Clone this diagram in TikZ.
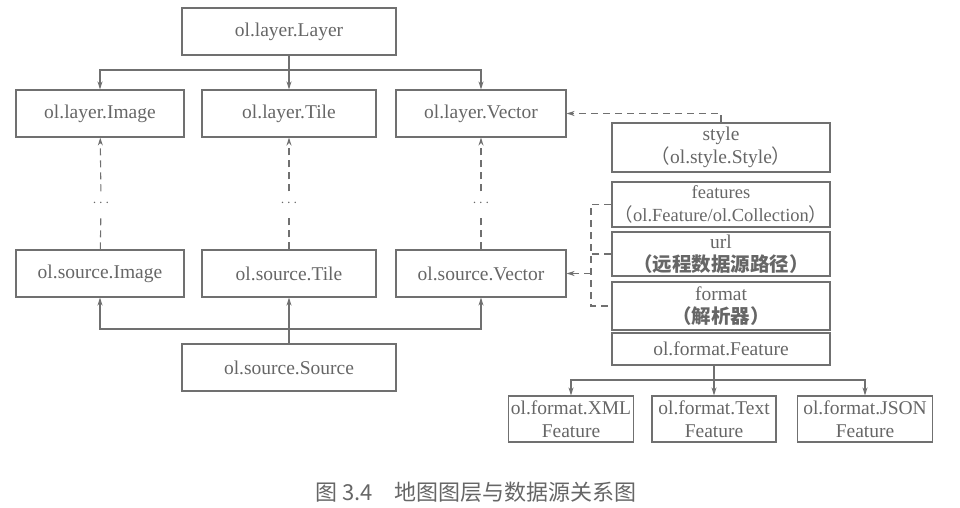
\documentclass[tikz,border=0pt]{standalone}
\usepackage{fontspec}
\setmainfont{Liberation Serif}
\newfontfamily\cjk{Noto Sans CJK SC}
\usepackage[dvipsnames]{xcolor}
\definecolor{linegray}{HTML}{707070}
\definecolor{textgray}{HTML}{666666}
\usetikzlibrary{arrows.meta}

\begin{document}
\begin{tikzpicture}[x=1pt,y=-1pt,->,>={Stealth[length=8pt,width=5pt]},line width=1.1pt,draw=linegray,
    main node/.style={draw=linegray,text=textgray,font=\fontsize{19.5}{23}\selectfont,align=center,inner sep=0pt,minimum height=47pt},
    dot node/.style={text=textgray,font=\fontsize{15}{15}\selectfont,inner sep=0pt,minimum height=22pt},
    dash line/.style={dash pattern=on 7pt off 5pt}]
    \useasboundingbox (0,0) rectangle (960,508);

    \node[main node,minimum width=214pt] (layer) at (289,31.5) {ol.layer.Layer};
    \node[main node,minimum width=168pt] (limg) at (100,113.5) {ol.layer.Image};
    \node[main node,minimum width=174pt] (ltile) at (289,113.5) {ol.layer.Tile};
    \node[main node,minimum width=170pt] (lvec) at (481,113.5) {ol.layer.Vector};

    \node[dot node] (d1) at (101,203) {$\cdots$};
    \node[dot node] (d2) at (289,203) {$\cdots$};
    \node[dot node] (d3) at (481,203) {$\cdots$};

    \node[main node,minimum width=168pt] (simg) at (100,273.5) {ol.source.Image};
    \node[main node,minimum width=174pt] (stile) at (289,273.5) {ol.source.Tile};
    \node[main node,minimum width=170pt] (svec) at (481,273.5) {ol.source.Vector};
    \node[main node,minimum width=214pt] (src) at (289,367.5) {ol.source.Source};

    \node[main node,minimum width=218pt,minimum height=49pt] (style) at (721,147.5) {style\\{\cjk（}ol.style.Style{\cjk）}};
    \node[main node,minimum width=218pt,minimum height=45pt,font=\fontsize{18.5}{23}\selectfont] (feat) at (721,204.5) {features\\{\cjk（}ol.Feature/ol.Collection{\cjk）}};
    \node[main node,minimum width=218pt,minimum height=44pt] (url) at (721,254) {url\\{\cjk\bfseries（远程数据源路径）}};
    \node[main node,minimum width=218pt,minimum height=48pt] (fmt) at (721,306) {format\\{\cjk\bfseries（解析器）}};
    \node[main node,minimum width=218pt,minimum height=32pt] (fmtf) at (721,349) {ol.format.Feature};
    \node[main node,minimum width=125pt,minimum height=46pt] (xml) at (571,419) {ol.format.XML\\Feature};
    \node[main node,minimum width=124pt,minimum height=46pt] (txt) at (714,419) {ol.format.Text\\Feature};
    \node[main node,minimum width=135pt,minimum height=46pt] (json) at (865,419) {ol.format.JSON\\Feature};

    \node[text=textgray,font=\cjk\fontsize{22}{22}\selectfont] (cap) at (476,492) {图 3.4\hspace{1em}地图图层与数据源关系图};

    \coordinate (lbus) at (289,70);
    \coordinate (sbus) at (289,329);
    \coordinate (fbus) at (714,380);
    \coordinate (bx) at (591,0);

    \draw[-] (layer) -- (lbus);
    \draw (lbus) -| (limg);
    \draw (lbus) -- (ltile);
    \draw (lbus) -| (lvec);

    \draw[-] (src) -- (sbus);
    \draw (sbus) -| (simg);
    \draw (sbus) -- (stile);
    \draw (sbus) -| (svec);

    \draw[dash line,-] (simg) -- (d1);
    \draw[dash line] (d1) -- (limg);
    \draw[dash line,-] (stile) -- (d2);
    \draw[dash line] (d2) -- (ltile);
    \draw[dash line,-] (svec) -- (d3);
    \draw[dash line] (d3) -- (lvec);

    \draw[dash line] (style) |- (lvec);
    \draw[dash line,-] (feat.west) -- (feat.west -| bx) -- (fmt.west -| bx) -- (fmt.west);
    \draw[dash line,-] (url.west) -- (url.west -| bx);
    \draw[dash line] (svec.east -| bx) -- (svec);

    \draw[-] (fmtf.south -| fbus) -- (fbus);
    \draw (fbus) -| (xml);
    \draw (fbus) -- (txt);
    \draw (fbus) -| (json);
\end{tikzpicture}
\end{document}
